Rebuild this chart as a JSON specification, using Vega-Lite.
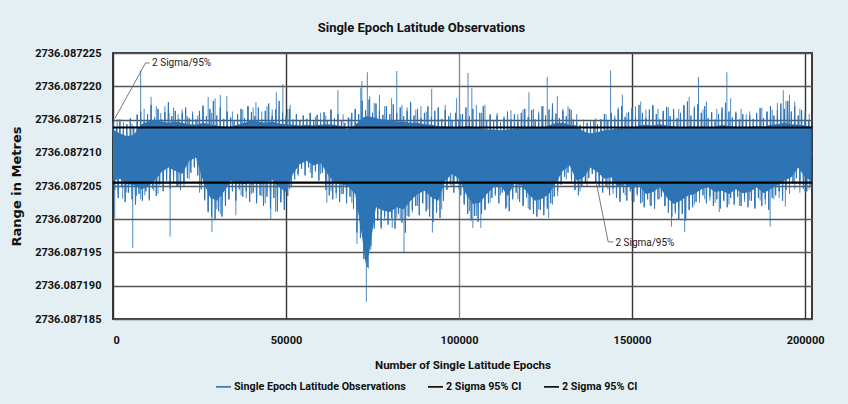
{
  "$schema": "https://vega.github.io/schema/vega-lite/v6.json",
  "width": 699,
  "height": 266,
  "autosize": {"type": "none"},
  "padding": {"left": 113, "top": 53, "right": 36, "bottom": 85},
  "background": "#e4eff3",
  "config": {
    "font": "Roboto",
    "view": {"fill": "#ffffff", "stroke": "#3c3c3c", "strokeWidth": 2},
    "axis": {
      "labelFont": "Roboto",
      "labelFontSize": 11,
      "labelFontWeight": "bold",
      "labelColor": "#111111",
      "titleFont": "Roboto",
      "titleFontSize": 11.5,
      "titleFontWeight": "bold",
      "titleColor": "#111111",
      "domain": false,
      "ticks": false,
      "grid": true,
      "gridColor": "#4a4a4a",
      "gridWidth": 1.4
    }
  },
  "title": {
    "text": "Single Epoch Latitude Observations",
    "font": "Roboto",
    "fontSize": 13,
    "fontWeight": "bold",
    "color": "#111111",
    "anchor": "middle",
    "dx": -41,
    "offset": 12
  },
  "datasets": {
    "core": [
      {"epoch": 0, "hi": 2736.0872135, "lo": 2736.0872058},
      {"epoch": 2000, "hi": 2736.0872129, "lo": 2736.0872061},
      {"epoch": 4000, "hi": 2736.0872125, "lo": 2736.0872053},
      {"epoch": 6000, "hi": 2736.0872127, "lo": 2736.0872051},
      {"epoch": 8000, "hi": 2736.0872142, "lo": 2736.0872045},
      {"epoch": 10000, "hi": 2736.0872147, "lo": 2736.0872048},
      {"epoch": 12000, "hi": 2736.0872149, "lo": 2736.0872058},
      {"epoch": 14000, "hi": 2736.0872147, "lo": 2736.0872071},
      {"epoch": 16000, "hi": 2736.0872145, "lo": 2736.0872078},
      {"epoch": 18000, "hi": 2736.0872147, "lo": 2736.0872073},
      {"epoch": 20000, "hi": 2736.0872145, "lo": 2736.0872068},
      {"epoch": 22000, "hi": 2736.0872143, "lo": 2736.0872088},
      {"epoch": 24000, "hi": 2736.0872142, "lo": 2736.0872093},
      {"epoch": 26000, "hi": 2736.0872145, "lo": 2736.0872058},
      {"epoch": 28000, "hi": 2736.0872143, "lo": 2736.0872033},
      {"epoch": 30000, "hi": 2736.0872141, "lo": 2736.0872028},
      {"epoch": 32000, "hi": 2736.0872139, "lo": 2736.0872041},
      {"epoch": 34000, "hi": 2736.0872139, "lo": 2736.0872058},
      {"epoch": 36000, "hi": 2736.0872142, "lo": 2736.0872055},
      {"epoch": 38000, "hi": 2736.0872145, "lo": 2736.0872053},
      {"epoch": 40000, "hi": 2736.0872149, "lo": 2736.0872057},
      {"epoch": 42000, "hi": 2736.0872147, "lo": 2736.0872053},
      {"epoch": 44000, "hi": 2736.0872145, "lo": 2736.0872055},
      {"epoch": 46000, "hi": 2736.0872147, "lo": 2736.0872059},
      {"epoch": 48000, "hi": 2736.0872144, "lo": 2736.0872048},
      {"epoch": 50000, "hi": 2736.0872143, "lo": 2736.0872041},
      {"epoch": 52000, "hi": 2736.0872142, "lo": 2736.0872068},
      {"epoch": 54000, "hi": 2736.0872141, "lo": 2736.0872083},
      {"epoch": 56000, "hi": 2736.0872142, "lo": 2736.0872088},
      {"epoch": 58000, "hi": 2736.0872141, "lo": 2736.0872081},
      {"epoch": 60000, "hi": 2736.0872142, "lo": 2736.0872085},
      {"epoch": 62000, "hi": 2736.0872143, "lo": 2736.0872068},
      {"epoch": 64000, "hi": 2736.0872142, "lo": 2736.0872055},
      {"epoch": 66000, "hi": 2736.087214, "lo": 2736.0872053},
      {"epoch": 68000, "hi": 2736.0872135, "lo": 2736.0872049},
      {"epoch": 70000, "hi": 2736.0872142, "lo": 2736.0872038},
      {"epoch": 72000, "hi": 2736.0872152, "lo": 2736.0871973},
      {"epoch": 73000, "hi": 2736.0872155, "lo": 2736.0871934},
      {"epoch": 74000, "hi": 2736.0872155, "lo": 2736.0871948},
      {"epoch": 76000, "hi": 2736.0872152, "lo": 2736.0872018},
      {"epoch": 78000, "hi": 2736.087215, "lo": 2736.0872013},
      {"epoch": 80000, "hi": 2736.0872149, "lo": 2736.0872011},
      {"epoch": 82000, "hi": 2736.0872147, "lo": 2736.0872018},
      {"epoch": 84000, "hi": 2736.0872147, "lo": 2736.0872015},
      {"epoch": 86000, "hi": 2736.0872145, "lo": 2736.0872028},
      {"epoch": 88000, "hi": 2736.0872145, "lo": 2736.0872038},
      {"epoch": 90000, "hi": 2736.0872143, "lo": 2736.0872043},
      {"epoch": 92000, "hi": 2736.0872142, "lo": 2736.0872033},
      {"epoch": 94000, "hi": 2736.087214, "lo": 2736.0872028},
      {"epoch": 96000, "hi": 2736.0872139, "lo": 2736.0872058},
      {"epoch": 98000, "hi": 2736.0872139, "lo": 2736.0872068},
      {"epoch": 100000, "hi": 2736.0872137, "lo": 2736.0872061},
      {"epoch": 102000, "hi": 2736.087214, "lo": 2736.0872038},
      {"epoch": 104000, "hi": 2736.0872139, "lo": 2736.0872023},
      {"epoch": 106000, "hi": 2736.0872137, "lo": 2736.0872025},
      {"epoch": 108000, "hi": 2736.0872135, "lo": 2736.0872038},
      {"epoch": 110000, "hi": 2736.0872135, "lo": 2736.0872048},
      {"epoch": 112000, "hi": 2736.0872134, "lo": 2736.0872051},
      {"epoch": 114000, "hi": 2736.0872135, "lo": 2736.0872035},
      {"epoch": 116000, "hi": 2736.0872137, "lo": 2736.0872053},
      {"epoch": 118000, "hi": 2736.0872137, "lo": 2736.0872051},
      {"epoch": 120000, "hi": 2736.0872139, "lo": 2736.0872038},
      {"epoch": 122000, "hi": 2736.0872139, "lo": 2736.0872028},
      {"epoch": 124000, "hi": 2736.0872137, "lo": 2736.0872031},
      {"epoch": 126000, "hi": 2736.0872141, "lo": 2736.0872038},
      {"epoch": 128000, "hi": 2736.0872145, "lo": 2736.0872055},
      {"epoch": 130000, "hi": 2736.0872145, "lo": 2736.0872073},
      {"epoch": 132000, "hi": 2736.0872142, "lo": 2736.0872081},
      {"epoch": 134000, "hi": 2736.0872141, "lo": 2736.0872058},
      {"epoch": 136000, "hi": 2736.0872132, "lo": 2736.0872063},
      {"epoch": 138000, "hi": 2736.0872129, "lo": 2736.0872078},
      {"epoch": 140000, "hi": 2736.0872131, "lo": 2736.0872071},
      {"epoch": 142000, "hi": 2736.0872134, "lo": 2736.0872061},
      {"epoch": 144000, "hi": 2736.0872135, "lo": 2736.0872063},
      {"epoch": 146000, "hi": 2736.0872137, "lo": 2736.0872048},
      {"epoch": 148000, "hi": 2736.0872137, "lo": 2736.0872053},
      {"epoch": 150000, "hi": 2736.0872137, "lo": 2736.0872045},
      {"epoch": 152000, "hi": 2736.0872141, "lo": 2736.0872051},
      {"epoch": 154000, "hi": 2736.0872142, "lo": 2736.0872038},
      {"epoch": 156000, "hi": 2736.0872141, "lo": 2736.0872041},
      {"epoch": 158000, "hi": 2736.0872143, "lo": 2736.0872048},
      {"epoch": 160000, "hi": 2736.0872141, "lo": 2736.0872033},
      {"epoch": 162000, "hi": 2736.087214, "lo": 2736.0872023},
      {"epoch": 164000, "hi": 2736.0872137, "lo": 2736.0872028},
      {"epoch": 166000, "hi": 2736.0872139, "lo": 2736.0872035},
      {"epoch": 168000, "hi": 2736.0872139, "lo": 2736.0872038},
      {"epoch": 170000, "hi": 2736.0872139, "lo": 2736.0872045},
      {"epoch": 172000, "hi": 2736.0872137, "lo": 2736.0872048},
      {"epoch": 174000, "hi": 2736.0872139, "lo": 2736.0872041},
      {"epoch": 176000, "hi": 2736.0872142, "lo": 2736.0872043},
      {"epoch": 178000, "hi": 2736.087214, "lo": 2736.0872038},
      {"epoch": 180000, "hi": 2736.0872139, "lo": 2736.0872045},
      {"epoch": 182000, "hi": 2736.0872137, "lo": 2736.0872039},
      {"epoch": 184000, "hi": 2736.0872139, "lo": 2736.0872041},
      {"epoch": 186000, "hi": 2736.087214, "lo": 2736.0872048},
      {"epoch": 188000, "hi": 2736.0872139, "lo": 2736.0872039},
      {"epoch": 190000, "hi": 2736.0872142, "lo": 2736.0872045},
      {"epoch": 192000, "hi": 2736.0872143, "lo": 2736.0872051},
      {"epoch": 194000, "hi": 2736.0872145, "lo": 2736.0872058},
      {"epoch": 196000, "hi": 2736.0872143, "lo": 2736.0872063},
      {"epoch": 198000, "hi": 2736.0872142, "lo": 2736.0872078},
      {"epoch": 200000, "hi": 2736.0872141, "lo": 2736.0872063},
      {"epoch": 201800, "hi": 2736.0872139, "lo": 2736.0872058}
    ],
    "trace": [
      {"epoch": 0, "lat": 2736.0872146}, {"epoch": 500, "lat": 2736.0872044},
      {"epoch": 1000, "lat": 2736.0872139}, {"epoch": 1500, "lat": 2736.0872032},
      {"epoch": 2000, "lat": 2736.087215}, {"epoch": 2500, "lat": 2736.0872048},
      {"epoch": 3000, "lat": 2736.0872136}, {"epoch": 3500, "lat": 2736.0872026},
      {"epoch": 4000, "lat": 2736.0872143}, {"epoch": 4500, "lat": 2736.087204},
      {"epoch": 5000, "lat": 2736.0872152}, {"epoch": 5500, "lat": 2736.087203},
      {"epoch": 6000, "lat": 2736.087214}, {"epoch": 6500, "lat": 2736.0872022},
      {"epoch": 7000, "lat": 2736.0872157}, {"epoch": 7500, "lat": 2736.0872038},
      {"epoch": 8000, "lat": 2736.0872162}, {"epoch": 8500, "lat": 2736.0872028},
      {"epoch": 9000, "lat": 2736.0872149}, {"epoch": 9500, "lat": 2736.0872042},
      {"epoch": 10000, "lat": 2736.0872158}, {"epoch": 10500, "lat": 2736.087203},
      {"epoch": 11000, "lat": 2736.0872172}, {"epoch": 11500, "lat": 2736.0872046},
      {"epoch": 12000, "lat": 2736.0872153}, {"epoch": 12500, "lat": 2736.0872035},
      {"epoch": 13000, "lat": 2736.0872166}, {"epoch": 13500, "lat": 2736.0872052},
      {"epoch": 14000, "lat": 2736.087215}, {"epoch": 14500, "lat": 2736.0872042},
      {"epoch": 15000, "lat": 2736.0872161}, {"epoch": 15500, "lat": 2736.0872058},
      {"epoch": 16000, "lat": 2736.0872176}, {"epoch": 16500, "lat": 2736.0872046},
      {"epoch": 17000, "lat": 2736.0872155}, {"epoch": 17500, "lat": 2736.087206},
      {"epoch": 18000, "lat": 2736.0872163}, {"epoch": 18500, "lat": 2736.087205},
      {"epoch": 19000, "lat": 2736.0872151}, {"epoch": 19500, "lat": 2736.0872044},
      {"epoch": 20000, "lat": 2736.087216}, {"epoch": 20500, "lat": 2736.0872056},
      {"epoch": 21000, "lat": 2736.0872168}, {"epoch": 21500, "lat": 2736.0872062},
      {"epoch": 22000, "lat": 2736.0872152}, {"epoch": 22500, "lat": 2736.087207},
      {"epoch": 23000, "lat": 2736.0872158}, {"epoch": 23500, "lat": 2736.0872078},
      {"epoch": 24000, "lat": 2736.087215}, {"epoch": 24500, "lat": 2736.0872066},
      {"epoch": 25000, "lat": 2736.0872163}, {"epoch": 25500, "lat": 2736.0872045},
      {"epoch": 26000, "lat": 2736.0872171}, {"epoch": 26500, "lat": 2736.087203},
      {"epoch": 27000, "lat": 2736.0872155}, {"epoch": 27500, "lat": 2736.0872012},
      {"epoch": 28000, "lat": 2736.0872166}, {"epoch": 28500, "lat": 2736.0872004},
      {"epoch": 29000, "lat": 2736.0872178}, {"epoch": 29500, "lat": 2736.0872},
      {"epoch": 30000, "lat": 2736.0872156}, {"epoch": 30500, "lat": 2736.0872012},
      {"epoch": 31000, "lat": 2736.0872168}, {"epoch": 31500, "lat": 2736.0872004},
      {"epoch": 32000, "lat": 2736.0872151}, {"epoch": 32500, "lat": 2736.087202},
      {"epoch": 33000, "lat": 2736.0872162}, {"epoch": 33500, "lat": 2736.087203},
      {"epoch": 34000, "lat": 2736.0872153}, {"epoch": 34500, "lat": 2736.0872042},
      {"epoch": 35000, "lat": 2736.0872149}, {"epoch": 35500, "lat": 2736.0872028},
      {"epoch": 36000, "lat": 2736.0872158}, {"epoch": 36500, "lat": 2736.0872045},
      {"epoch": 37000, "lat": 2736.0872166}, {"epoch": 37500, "lat": 2736.0872034},
      {"epoch": 38000, "lat": 2736.0872152}, {"epoch": 38500, "lat": 2736.0872042},
      {"epoch": 39000, "lat": 2736.087217}, {"epoch": 39500, "lat": 2736.0872026},
      {"epoch": 40000, "lat": 2736.0872161}, {"epoch": 40500, "lat": 2736.087204},
      {"epoch": 41000, "lat": 2736.0872155}, {"epoch": 41500, "lat": 2736.0872024},
      {"epoch": 42000, "lat": 2736.0872168}, {"epoch": 42500, "lat": 2736.0872036},
      {"epoch": 43000, "lat": 2736.087215}, {"epoch": 43500, "lat": 2736.087202},
      {"epoch": 44000, "lat": 2736.0872163}, {"epoch": 44500, "lat": 2736.0872034},
      {"epoch": 45000, "lat": 2736.0872174}, {"epoch": 45500, "lat": 2736.0872016},
      {"epoch": 46000, "lat": 2736.0872156}, {"epoch": 46500, "lat": 2736.0872032},
      {"epoch": 47000, "lat": 2736.0872165}, {"epoch": 47500, "lat": 2736.0872012},
      {"epoch": 48000, "lat": 2736.0872178}, {"epoch": 48500, "lat": 2736.0872026},
      {"epoch": 49000, "lat": 2736.087216}, {"epoch": 49500, "lat": 2736.0872014},
      {"epoch": 50000, "lat": 2736.0872155}, {"epoch": 50500, "lat": 2736.0872035},
      {"epoch": 51000, "lat": 2736.0872166}, {"epoch": 51500, "lat": 2736.0872048},
      {"epoch": 52000, "lat": 2736.087215}, {"epoch": 52500, "lat": 2736.087206},
      {"epoch": 53000, "lat": 2736.0872158}, {"epoch": 53500, "lat": 2736.0872068},
      {"epoch": 54000, "lat": 2736.0872148}, {"epoch": 54500, "lat": 2736.0872076},
      {"epoch": 55000, "lat": 2736.0872156}, {"epoch": 55500, "lat": 2736.0872066},
      {"epoch": 56000, "lat": 2736.0872151}, {"epoch": 56500, "lat": 2736.0872078},
      {"epoch": 57000, "lat": 2736.087216}, {"epoch": 57500, "lat": 2736.0872062},
      {"epoch": 58000, "lat": 2736.0872147}, {"epoch": 58500, "lat": 2736.0872072},
      {"epoch": 59000, "lat": 2736.0872157}, {"epoch": 59500, "lat": 2736.0872058},
      {"epoch": 60000, "lat": 2736.087215}, {"epoch": 60500, "lat": 2736.087207},
      {"epoch": 61000, "lat": 2736.0872161}, {"epoch": 61500, "lat": 2736.0872044},
      {"epoch": 62000, "lat": 2736.0872149}, {"epoch": 62500, "lat": 2736.0872036},
      {"epoch": 63000, "lat": 2736.0872165}, {"epoch": 63500, "lat": 2736.087203},
      {"epoch": 64000, "lat": 2736.0872152}, {"epoch": 64500, "lat": 2736.087204},
      {"epoch": 65000, "lat": 2736.0872158}, {"epoch": 65500, "lat": 2736.0872026},
      {"epoch": 66000, "lat": 2736.0872148}, {"epoch": 66500, "lat": 2736.0872038},
      {"epoch": 67000, "lat": 2736.0872145}, {"epoch": 67500, "lat": 2736.0872024},
      {"epoch": 68000, "lat": 2736.0872153}, {"epoch": 68500, "lat": 2736.0872034},
      {"epoch": 69000, "lat": 2736.087216}, {"epoch": 69500, "lat": 2736.0872016},
      {"epoch": 70000, "lat": 2736.0872166}, {"epoch": 70500, "lat": 2736.087198},
      {"epoch": 71000, "lat": 2736.0872158}, {"epoch": 71500, "lat": 2736.0871972},
      {"epoch": 72000, "lat": 2736.0872178}, {"epoch": 72500, "lat": 2736.087194},
      {"epoch": 73000, "lat": 2736.0872164}, {"epoch": 73500, "lat": 2736.0871928},
      {"epoch": 74000, "lat": 2736.087218}, {"epoch": 74500, "lat": 2736.087196},
      {"epoch": 75000, "lat": 2736.087216}, {"epoch": 75500, "lat": 2736.0871986},
      {"epoch": 76000, "lat": 2736.0872174}, {"epoch": 76500, "lat": 2736.0871998},
      {"epoch": 77000, "lat": 2736.0872163}, {"epoch": 77500, "lat": 2736.0871988},
      {"epoch": 78000, "lat": 2736.0872157}, {"epoch": 78500, "lat": 2736.0872004},
      {"epoch": 79000, "lat": 2736.087217}, {"epoch": 79500, "lat": 2736.0871992},
      {"epoch": 80000, "lat": 2736.0872158}, {"epoch": 80500, "lat": 2736.0872002},
      {"epoch": 81000, "lat": 2736.0872173}, {"epoch": 81500, "lat": 2736.0871986},
      {"epoch": 82000, "lat": 2736.087216}, {"epoch": 82500, "lat": 2736.0872008},
      {"epoch": 83000, "lat": 2736.0872168}, {"epoch": 83500, "lat": 2736.0871995},
      {"epoch": 84000, "lat": 2736.0872155}, {"epoch": 84500, "lat": 2736.087198},
      {"epoch": 85000, "lat": 2736.0872163}, {"epoch": 85500, "lat": 2736.0872004},
      {"epoch": 86000, "lat": 2736.0872175}, {"epoch": 86500, "lat": 2736.0872014},
      {"epoch": 87000, "lat": 2736.0872156}, {"epoch": 87500, "lat": 2736.087202},
      {"epoch": 88000, "lat": 2736.0872166}, {"epoch": 88500, "lat": 2736.0872006},
      {"epoch": 89000, "lat": 2736.0872152}, {"epoch": 89500, "lat": 2736.0872024},
      {"epoch": 90000, "lat": 2736.087216}, {"epoch": 90500, "lat": 2736.0872012},
      {"epoch": 91000, "lat": 2736.087217}, {"epoch": 91500, "lat": 2736.0872004},
      {"epoch": 92000, "lat": 2736.0872154}, {"epoch": 92500, "lat": 2736.0871996},
      {"epoch": 93000, "lat": 2736.0872163}, {"epoch": 93500, "lat": 2736.087201},
      {"epoch": 94000, "lat": 2736.0872168}, {"epoch": 94500, "lat": 2736.0872002},
      {"epoch": 95000, "lat": 2736.0872151}, {"epoch": 95500, "lat": 2736.0872028},
      {"epoch": 96000, "lat": 2736.0872164}, {"epoch": 96500, "lat": 2736.0872044},
      {"epoch": 97000, "lat": 2736.0872155}, {"epoch": 97500, "lat": 2736.0872052},
      {"epoch": 98000, "lat": 2736.0872149}, {"epoch": 98500, "lat": 2736.087204},
      {"epoch": 99000, "lat": 2736.087216}, {"epoch": 99500, "lat": 2736.0872054},
      {"epoch": 100000, "lat": 2736.087215}, {"epoch": 100500, "lat": 2736.0872036},
      {"epoch": 101000, "lat": 2736.0872158}, {"epoch": 101500, "lat": 2736.0872022},
      {"epoch": 102000, "lat": 2736.0872168}, {"epoch": 102500, "lat": 2736.0872008},
      {"epoch": 103000, "lat": 2736.0872155}, {"epoch": 103500, "lat": 2736.0871998},
      {"epoch": 104000, "lat": 2736.0872166}, {"epoch": 104500, "lat": 2736.0872005},
      {"epoch": 105000, "lat": 2736.087215}, {"epoch": 105500, "lat": 2736.0871996},
      {"epoch": 106000, "lat": 2736.087216}, {"epoch": 106500, "lat": 2736.0872008},
      {"epoch": 107000, "lat": 2736.087217}, {"epoch": 107500, "lat": 2736.0872014},
      {"epoch": 108000, "lat": 2736.0872149}, {"epoch": 108500, "lat": 2736.0872024},
      {"epoch": 109000, "lat": 2736.0872157}, {"epoch": 109500, "lat": 2736.0872032},
      {"epoch": 110000, "lat": 2736.0872148}, {"epoch": 110500, "lat": 2736.0872038},
      {"epoch": 111000, "lat": 2736.0872156}, {"epoch": 111500, "lat": 2736.0872024},
      {"epoch": 112000, "lat": 2736.0872146}, {"epoch": 112500, "lat": 2736.087204},
      {"epoch": 113000, "lat": 2736.0872152}, {"epoch": 113500, "lat": 2736.0872016},
      {"epoch": 114000, "lat": 2736.0872162}, {"epoch": 114500, "lat": 2736.0872012},
      {"epoch": 115000, "lat": 2736.087215}, {"epoch": 115500, "lat": 2736.087203},
      {"epoch": 116000, "lat": 2736.0872158}, {"epoch": 116500, "lat": 2736.087204},
      {"epoch": 117000, "lat": 2736.0872147}, {"epoch": 117500, "lat": 2736.0872026},
      {"epoch": 118000, "lat": 2736.087216}, {"epoch": 118500, "lat": 2736.087202},
      {"epoch": 119000, "lat": 2736.0872166}, {"epoch": 119500, "lat": 2736.0872032},
      {"epoch": 120000, "lat": 2736.0872154}, {"epoch": 120500, "lat": 2736.0872014},
      {"epoch": 121000, "lat": 2736.0872164}, {"epoch": 121500, "lat": 2736.0872008},
      {"epoch": 122000, "lat": 2736.087215}, {"epoch": 122500, "lat": 2736.0872004},
      {"epoch": 123000, "lat": 2736.0872158}, {"epoch": 123500, "lat": 2736.0872014},
      {"epoch": 124000, "lat": 2736.087217}, {"epoch": 124500, "lat": 2736.0872006},
      {"epoch": 125000, "lat": 2736.0872156}, {"epoch": 125500, "lat": 2736.0872016},
      {"epoch": 126000, "lat": 2736.0872165}, {"epoch": 126500, "lat": 2736.0872024},
      {"epoch": 127000, "lat": 2736.0872174}, {"epoch": 127500, "lat": 2736.0872034},
      {"epoch": 128000, "lat": 2736.0872159}, {"epoch": 128500, "lat": 2736.0872042},
      {"epoch": 129000, "lat": 2736.0872152}, {"epoch": 129500, "lat": 2736.0872052},
      {"epoch": 130000, "lat": 2736.0872163}, {"epoch": 130500, "lat": 2736.0872064},
      {"epoch": 131000, "lat": 2736.0872155}, {"epoch": 131500, "lat": 2736.087207},
      {"epoch": 132000, "lat": 2736.0872166}, {"epoch": 132500, "lat": 2736.0872058},
      {"epoch": 133000, "lat": 2736.087215}, {"epoch": 133500, "lat": 2736.0872044},
      {"epoch": 134000, "lat": 2736.0872146}, {"epoch": 134500, "lat": 2736.0872036},
      {"epoch": 135000, "lat": 2736.0872142}, {"epoch": 135500, "lat": 2736.087205},
      {"epoch": 136000, "lat": 2736.0872139}, {"epoch": 136500, "lat": 2736.0872054},
      {"epoch": 137000, "lat": 2736.0872145}, {"epoch": 137500, "lat": 2736.0872062},
      {"epoch": 138000, "lat": 2736.0872141}, {"epoch": 138500, "lat": 2736.0872068},
      {"epoch": 139000, "lat": 2736.0872148}, {"epoch": 139500, "lat": 2736.0872056},
      {"epoch": 140000, "lat": 2736.0872143}, {"epoch": 140500, "lat": 2736.0872048},
      {"epoch": 141000, "lat": 2736.087215}, {"epoch": 141500, "lat": 2736.087204},
      {"epoch": 142000, "lat": 2736.0872158}, {"epoch": 142500, "lat": 2736.087205},
      {"epoch": 143000, "lat": 2736.0872149}, {"epoch": 143500, "lat": 2736.0872036},
      {"epoch": 144000, "lat": 2736.087216}, {"epoch": 144500, "lat": 2736.0872046},
      {"epoch": 145000, "lat": 2736.0872152}, {"epoch": 145500, "lat": 2736.0872032},
      {"epoch": 146000, "lat": 2736.0872165}, {"epoch": 146500, "lat": 2736.0872026},
      {"epoch": 147000, "lat": 2736.087217}, {"epoch": 147500, "lat": 2736.087204},
      {"epoch": 148000, "lat": 2736.0872154}, {"epoch": 148500, "lat": 2736.0872028},
      {"epoch": 149000, "lat": 2736.0872161}, {"epoch": 149500, "lat": 2736.0872042},
      {"epoch": 150000, "lat": 2736.0872168}, {"epoch": 150500, "lat": 2736.0872026},
      {"epoch": 151000, "lat": 2736.0872156}, {"epoch": 151500, "lat": 2736.0872038},
      {"epoch": 152000, "lat": 2736.0872172}, {"epoch": 152500, "lat": 2736.0872024},
      {"epoch": 153000, "lat": 2736.087216}, {"epoch": 153500, "lat": 2736.0872018},
      {"epoch": 154000, "lat": 2736.0872152}, {"epoch": 154500, "lat": 2736.087203},
      {"epoch": 155000, "lat": 2736.0872165}, {"epoch": 155500, "lat": 2736.087202},
      {"epoch": 156000, "lat": 2736.0872171}, {"epoch": 156500, "lat": 2736.0872016},
      {"epoch": 157000, "lat": 2736.0872158}, {"epoch": 157500, "lat": 2736.087203},
      {"epoch": 158000, "lat": 2736.087215}, {"epoch": 158500, "lat": 2736.0872034},
      {"epoch": 159000, "lat": 2736.0872163}, {"epoch": 159500, "lat": 2736.087202},
      {"epoch": 160000, "lat": 2736.0872169}, {"epoch": 160500, "lat": 2736.087201},
      {"epoch": 161000, "lat": 2736.0872155}, {"epoch": 161500, "lat": 2736.0872004},
      {"epoch": 162000, "lat": 2736.0872166}, {"epoch": 162500, "lat": 2736.0872012},
      {"epoch": 163000, "lat": 2736.0872152}, {"epoch": 163500, "lat": 2736.0872},
      {"epoch": 164000, "lat": 2736.087216}, {"epoch": 164500, "lat": 2736.0872008},
      {"epoch": 165000, "lat": 2736.0872171}, {"epoch": 165500, "lat": 2736.0871998},
      {"epoch": 166000, "lat": 2736.0872177}, {"epoch": 166500, "lat": 2736.0872014},
      {"epoch": 167000, "lat": 2736.0872156}, {"epoch": 167500, "lat": 2736.0872018},
      {"epoch": 168000, "lat": 2736.0872167}, {"epoch": 168500, "lat": 2736.0872026},
      {"epoch": 169000, "lat": 2736.0872173}, {"epoch": 169500, "lat": 2736.0872032},
      {"epoch": 170000, "lat": 2736.087216}, {"epoch": 170500, "lat": 2736.0872036},
      {"epoch": 171000, "lat": 2736.087217}, {"epoch": 171500, "lat": 2736.0872024},
      {"epoch": 172000, "lat": 2736.0872152}, {"epoch": 172500, "lat": 2736.0872034},
      {"epoch": 173000, "lat": 2736.0872161}, {"epoch": 173500, "lat": 2736.087202},
      {"epoch": 174000, "lat": 2736.087215}, {"epoch": 174500, "lat": 2736.087203},
      {"epoch": 175000, "lat": 2736.0872158}, {"epoch": 175500, "lat": 2736.0872016},
      {"epoch": 176000, "lat": 2736.0872168}, {"epoch": 176500, "lat": 2736.0872028},
      {"epoch": 177000, "lat": 2736.0872175}, {"epoch": 177500, "lat": 2736.0872018},
      {"epoch": 178000, "lat": 2736.0872162}, {"epoch": 178500, "lat": 2736.0872032},
      {"epoch": 179000, "lat": 2736.0872153}, {"epoch": 179500, "lat": 2736.0872022},
      {"epoch": 180000, "lat": 2736.087216}, {"epoch": 180500, "lat": 2736.0872034},
      {"epoch": 181000, "lat": 2736.087215}, {"epoch": 181500, "lat": 2736.087202},
      {"epoch": 182000, "lat": 2736.0872158}, {"epoch": 182500, "lat": 2736.087203},
      {"epoch": 183000, "lat": 2736.0872148}, {"epoch": 183500, "lat": 2736.0872018},
      {"epoch": 184000, "lat": 2736.0872156}, {"epoch": 184500, "lat": 2736.0872028},
      {"epoch": 185000, "lat": 2736.0872151}, {"epoch": 185500, "lat": 2736.0872016},
      {"epoch": 186000, "lat": 2736.087216}, {"epoch": 186500, "lat": 2736.0872032},
      {"epoch": 187000, "lat": 2736.0872167}, {"epoch": 187500, "lat": 2736.087202},
      {"epoch": 188000, "lat": 2736.0872152}, {"epoch": 188500, "lat": 2736.087203},
      {"epoch": 189000, "lat": 2736.0872162}, {"epoch": 189500, "lat": 2736.0872014},
      {"epoch": 190000, "lat": 2736.087217}, {"epoch": 190500, "lat": 2736.0872032},
      {"epoch": 191000, "lat": 2736.0872156}, {"epoch": 191500, "lat": 2736.0872036},
      {"epoch": 192000, "lat": 2736.0872164}, {"epoch": 192500, "lat": 2736.0872042},
      {"epoch": 193000, "lat": 2736.0872174}, {"epoch": 193500, "lat": 2736.0872028},
      {"epoch": 194000, "lat": 2736.0872166}, {"epoch": 194500, "lat": 2736.0872044},
      {"epoch": 195000, "lat": 2736.0872178}, {"epoch": 195500, "lat": 2736.0872048},
      {"epoch": 196000, "lat": 2736.0872162}, {"epoch": 196500, "lat": 2736.0872054},
      {"epoch": 197000, "lat": 2736.087217}, {"epoch": 197500, "lat": 2736.0872062},
      {"epoch": 198000, "lat": 2736.0872156}, {"epoch": 198500, "lat": 2736.0872052},
      {"epoch": 199000, "lat": 2736.0872164}, {"epoch": 199500, "lat": 2736.0872046},
      {"epoch": 200000, "lat": 2736.0872152}, {"epoch": 200500, "lat": 2736.0872042},
      {"epoch": 201000, "lat": 2736.0872148}, {"epoch": 201500, "lat": 2736.087205}
    ],
    "spikes": [
      {"epoch": 1200, "lat": 2736.087215}, {"epoch": 3000, "lat": 2736.0872146}, {"epoch": 5500, "lat": 2736.0872144},
      {"epoch": 7000, "lat": 2736.0872158}, {"epoch": 8000, "lat": 2736.0872224}, {"epoch": 9000, "lat": 2736.0872166},
      {"epoch": 11000, "lat": 2736.0872184}, {"epoch": 12500, "lat": 2736.087217}, {"epoch": 13800, "lat": 2736.087216},
      {"epoch": 15000, "lat": 2736.087217}, {"epoch": 16200, "lat": 2736.087216}, {"epoch": 17500, "lat": 2736.0872168},
      {"epoch": 18800, "lat": 2736.0872158}, {"epoch": 20000, "lat": 2736.0872165}, {"epoch": 21500, "lat": 2736.0872155},
      {"epoch": 23000, "lat": 2736.0872162}, {"epoch": 24500, "lat": 2736.0872156}, {"epoch": 26000, "lat": 2736.0872168},
      {"epoch": 27500, "lat": 2736.0872184}, {"epoch": 28500, "lat": 2736.087216}, {"epoch": 29500, "lat": 2736.0872182},
      {"epoch": 31000, "lat": 2736.0872187}, {"epoch": 32900, "lat": 2736.0872185}, {"epoch": 34500, "lat": 2736.0872162},
      {"epoch": 36000, "lat": 2736.0872158}, {"epoch": 37500, "lat": 2736.0872165}, {"epoch": 39000, "lat": 2736.087217},
      {"epoch": 40500, "lat": 2736.0872168}, {"epoch": 41300, "lat": 2736.0872176}, {"epoch": 43000, "lat": 2736.0872162},
      {"epoch": 44500, "lat": 2736.087217}, {"epoch": 46000, "lat": 2736.0872165}, {"epoch": 47200, "lat": 2736.0872191},
      {"epoch": 49100, "lat": 2736.0872203}, {"epoch": 50500, "lat": 2736.0872166}, {"epoch": 51200, "lat": 2736.0872172},
      {"epoch": 53000, "lat": 2736.0872158}, {"epoch": 55000, "lat": 2736.0872155}, {"epoch": 57000, "lat": 2736.0872159},
      {"epoch": 58500, "lat": 2736.0872154}, {"epoch": 60000, "lat": 2736.087216}, {"epoch": 61500, "lat": 2736.0872156},
      {"epoch": 63000, "lat": 2736.0872164}, {"epoch": 65000, "lat": 2736.0872194}, {"epoch": 66500, "lat": 2736.0872158},
      {"epoch": 68500, "lat": 2736.0872152}, {"epoch": 70000, "lat": 2736.0872165}, {"epoch": 71600, "lat": 2736.0872197},
      {"epoch": 71900, "lat": 2736.0872208}, {"epoch": 73500, "lat": 2736.0872221}, {"epoch": 74200, "lat": 2736.0872185},
      {"epoch": 75500, "lat": 2736.0872175}, {"epoch": 77000, "lat": 2736.0872187}, {"epoch": 78500, "lat": 2736.087217},
      {"epoch": 80500, "lat": 2736.0872182}, {"epoch": 82000, "lat": 2736.0872223}, {"epoch": 83500, "lat": 2736.0872172},
      {"epoch": 85000, "lat": 2736.0872168}, {"epoch": 86000, "lat": 2736.0872177}, {"epoch": 87500, "lat": 2736.0872165},
      {"epoch": 89000, "lat": 2736.087217}, {"epoch": 90500, "lat": 2736.0872162}, {"epoch": 92100, "lat": 2736.0872196},
      {"epoch": 94000, "lat": 2736.0872168}, {"epoch": 96000, "lat": 2736.0872172}, {"epoch": 97500, "lat": 2736.087216},
      {"epoch": 99300, "lat": 2736.0872182}, {"epoch": 100500, "lat": 2736.0872158}, {"epoch": 102600, "lat": 2736.087222},
      {"epoch": 103700, "lat": 2736.0872197}, {"epoch": 105000, "lat": 2736.0872172}, {"epoch": 106500, "lat": 2736.087216},
      {"epoch": 107500, "lat": 2736.0872172}, {"epoch": 109000, "lat": 2736.0872158}, {"epoch": 111000, "lat": 2736.087216},
      {"epoch": 113000, "lat": 2736.0872155}, {"epoch": 115000, "lat": 2736.0872164}, {"epoch": 117000, "lat": 2736.0872158},
      {"epoch": 118500, "lat": 2736.0872165}, {"epoch": 120200, "lat": 2736.0872191}, {"epoch": 121500, "lat": 2736.0872166},
      {"epoch": 123000, "lat": 2736.0872162}, {"epoch": 124300, "lat": 2736.087217}, {"epoch": 125500, "lat": 2736.0872214},
      {"epoch": 127000, "lat": 2736.0872168}, {"epoch": 128400, "lat": 2736.0872185}, {"epoch": 130000, "lat": 2736.0872166},
      {"epoch": 131500, "lat": 2736.087217}, {"epoch": 132500, "lat": 2736.0872164}, {"epoch": 134000, "lat": 2736.0872158},
      {"epoch": 136000, "lat": 2736.087215}, {"epoch": 138000, "lat": 2736.0872148}, {"epoch": 139500, "lat": 2736.0872152},
      {"epoch": 141000, "lat": 2736.087215}, {"epoch": 142500, "lat": 2736.0872158}, {"epoch": 143800, "lat": 2736.0872224},
      {"epoch": 145000, "lat": 2736.0872156}, {"epoch": 146000, "lat": 2736.0872168}, {"epoch": 147200, "lat": 2736.0872187},
      {"epoch": 148500, "lat": 2736.087216}, {"epoch": 150000, "lat": 2736.0872165}, {"epoch": 151000, "lat": 2736.087217},
      {"epoch": 152500, "lat": 2736.0872177}, {"epoch": 154000, "lat": 2736.0872165}, {"epoch": 156000, "lat": 2736.0872172},
      {"epoch": 157500, "lat": 2736.0872166}, {"epoch": 159000, "lat": 2736.087216}, {"epoch": 160500, "lat": 2736.0872168},
      {"epoch": 162000, "lat": 2736.0872162}, {"epoch": 163500, "lat": 2736.0872166}, {"epoch": 165000, "lat": 2736.0872172},
      {"epoch": 166500, "lat": 2736.0872184}, {"epoch": 168000, "lat": 2736.087217}, {"epoch": 169200, "lat": 2736.0872214},
      {"epoch": 170500, "lat": 2736.0872165}, {"epoch": 171500, "lat": 2736.0872177}, {"epoch": 173000, "lat": 2736.087216},
      {"epoch": 174500, "lat": 2736.0872166}, {"epoch": 176000, "lat": 2736.0872162}, {"epoch": 177400, "lat": 2736.0872221},
      {"epoch": 178500, "lat": 2736.0872182}, {"epoch": 180000, "lat": 2736.0872162}, {"epoch": 181500, "lat": 2736.0872166},
      {"epoch": 183000, "lat": 2736.0872158}, {"epoch": 184000, "lat": 2736.0872162}, {"epoch": 186000, "lat": 2736.0872158},
      {"epoch": 187500, "lat": 2736.0872168}, {"epoch": 189000, "lat": 2736.087216}, {"epoch": 190500, "lat": 2736.0872165},
      {"epoch": 192000, "lat": 2736.0872175}, {"epoch": 193700, "lat": 2736.0872194}, {"epoch": 194500, "lat": 2736.0872178},
      {"epoch": 195500, "lat": 2736.0872187}, {"epoch": 197000, "lat": 2736.0872177}, {"epoch": 198500, "lat": 2736.0872166},
      {"epoch": 200000, "lat": 2736.0872162}, {"epoch": 201200, "lat": 2736.0872158},
      {"epoch": 500, "lat": 2736.0872002}, {"epoch": 1500, "lat": 2736.0872038}, {"epoch": 2800, "lat": 2736.0872031},
      {"epoch": 4000, "lat": 2736.087204}, {"epoch": 5700, "lat": 2736.0871957}, {"epoch": 6800, "lat": 2736.0872035},
      {"epoch": 8000, "lat": 2736.087203}, {"epoch": 9200, "lat": 2736.0872036}, {"epoch": 10500, "lat": 2736.0872028},
      {"epoch": 11800, "lat": 2736.0872042}, {"epoch": 13000, "lat": 2736.0872038}, {"epoch": 14500, "lat": 2736.087205},
      {"epoch": 16500, "lat": 2736.0871974}, {"epoch": 17500, "lat": 2736.0872055}, {"epoch": 19000, "lat": 2736.087205},
      {"epoch": 20500, "lat": 2736.0872048}, {"epoch": 22000, "lat": 2736.087206}, {"epoch": 25000, "lat": 2736.087204},
      {"epoch": 26500, "lat": 2736.0872028}, {"epoch": 27500, "lat": 2736.087201}, {"epoch": 28600, "lat": 2736.0871981},
      {"epoch": 30000, "lat": 2736.0872015}, {"epoch": 31000, "lat": 2736.0872008}, {"epoch": 32500, "lat": 2736.087202},
      {"epoch": 33500, "lat": 2736.087203}, {"epoch": 35500, "lat": 2736.0872006}, {"epoch": 37000, "lat": 2736.0872036},
      {"epoch": 38500, "lat": 2736.0872032}, {"epoch": 40000, "lat": 2736.0872038}, {"epoch": 41500, "lat": 2736.0872028},
      {"epoch": 43000, "lat": 2736.0872035}, {"epoch": 44000, "lat": 2736.0872024}, {"epoch": 45600, "lat": 2736.0871999},
      {"epoch": 47000, "lat": 2736.0872011}, {"epoch": 48500, "lat": 2736.0872025}, {"epoch": 49500, "lat": 2736.087203},
      {"epoch": 51000, "lat": 2736.0872045}, {"epoch": 53500, "lat": 2736.0872065}, {"epoch": 57000, "lat": 2736.087207},
      {"epoch": 60000, "lat": 2736.0872068}, {"epoch": 61800, "lat": 2736.0872025}, {"epoch": 63000, "lat": 2736.0872042},
      {"epoch": 64500, "lat": 2736.0872032}, {"epoch": 66000, "lat": 2736.0872038}, {"epoch": 67500, "lat": 2736.0872035},
      {"epoch": 69000, "lat": 2736.0872025}, {"epoch": 70500, "lat": 2736.0871963}, {"epoch": 71500, "lat": 2736.087199},
      {"epoch": 73200, "lat": 2736.0871876}, {"epoch": 73800, "lat": 2736.0871926}, {"epoch": 74500, "lat": 2736.0871954},
      {"epoch": 75500, "lat": 2736.0871995}, {"epoch": 76500, "lat": 2736.0872}, {"epoch": 77500, "lat": 2736.0871985},
      {"epoch": 78500, "lat": 2736.0871998}, {"epoch": 79500, "lat": 2736.0872}, {"epoch": 80700, "lat": 2736.0871987},
      {"epoch": 82000, "lat": 2736.0872002}, {"epoch": 83000, "lat": 2736.0871998}, {"epoch": 84100, "lat": 2736.0871951},
      {"epoch": 85000, "lat": 2736.0872005}, {"epoch": 86500, "lat": 2736.087201}, {"epoch": 88000, "lat": 2736.087202},
      {"epoch": 89500, "lat": 2736.0872025}, {"epoch": 91000, "lat": 2736.0872015}, {"epoch": 92300, "lat": 2736.087198},
      {"epoch": 93500, "lat": 2736.0872012}, {"epoch": 95000, "lat": 2736.0872015}, {"epoch": 96500, "lat": 2736.0872045},
      {"epoch": 98000, "lat": 2736.087205}, {"epoch": 100000, "lat": 2736.0872045}, {"epoch": 101500, "lat": 2736.0872025},
      {"epoch": 103000, "lat": 2736.0872012}, {"epoch": 104000, "lat": 2736.0871987}, {"epoch": 105000, "lat": 2736.0872005},
      {"epoch": 106300, "lat": 2736.0871987}, {"epoch": 107500, "lat": 2736.0872015}, {"epoch": 109000, "lat": 2736.0872025},
      {"epoch": 110500, "lat": 2736.0872035}, {"epoch": 112000, "lat": 2736.0872036}, {"epoch": 113800, "lat": 2736.0872018},
      {"epoch": 115500, "lat": 2736.0872035}, {"epoch": 117000, "lat": 2736.087203}, {"epoch": 118600, "lat": 2736.0872022},
      {"epoch": 120000, "lat": 2736.0872016}, {"epoch": 121500, "lat": 2736.0872012}, {"epoch": 123000, "lat": 2736.0872015},
      {"epoch": 124500, "lat": 2736.087202}, {"epoch": 125900, "lat": 2736.0872002}, {"epoch": 127000, "lat": 2736.0872022},
      {"epoch": 128500, "lat": 2736.0872035}, {"epoch": 131000, "lat": 2736.087206}, {"epoch": 133500, "lat": 2736.0872045},
      {"epoch": 135000, "lat": 2736.0872042}, {"epoch": 137000, "lat": 2736.087205}, {"epoch": 139500, "lat": 2736.0872055},
      {"epoch": 141500, "lat": 2736.0872042}, {"epoch": 143000, "lat": 2736.0872045}, {"epoch": 144500, "lat": 2736.0872038},
      {"epoch": 146500, "lat": 2736.087203}, {"epoch": 148000, "lat": 2736.0872036}, {"epoch": 150000, "lat": 2736.0872028},
      {"epoch": 151500, "lat": 2736.0872035}, {"epoch": 153000, "lat": 2736.0872026}, {"epoch": 155200, "lat": 2736.0872021},
      {"epoch": 156500, "lat": 2736.0872025}, {"epoch": 158000, "lat": 2736.087203}, {"epoch": 159500, "lat": 2736.087202},
      {"epoch": 161400, "lat": 2736.0871989}, {"epoch": 162500, "lat": 2736.0872008}, {"epoch": 163500, "lat": 2736.0872015},
      {"epoch": 165200, "lat": 2736.0871981}, {"epoch": 166500, "lat": 2736.0872015}, {"epoch": 168000, "lat": 2736.0872022},
      {"epoch": 169500, "lat": 2736.0872025}, {"epoch": 171000, "lat": 2736.087203}, {"epoch": 172500, "lat": 2736.0872028},
      {"epoch": 174000, "lat": 2736.0872024}, {"epoch": 175200, "lat": 2736.0872011}, {"epoch": 176500, "lat": 2736.0872028},
      {"epoch": 178000, "lat": 2736.0872022}, {"epoch": 179500, "lat": 2736.087203}, {"epoch": 181000, "lat": 2736.087202},
      {"epoch": 182500, "lat": 2736.0872026}, {"epoch": 184000, "lat": 2736.0872028}, {"epoch": 185500, "lat": 2736.0872018},
      {"epoch": 187000, "lat": 2736.0872028}, {"epoch": 188500, "lat": 2736.0872022}, {"epoch": 189900, "lat": 2736.0871989},
      {"epoch": 191000, "lat": 2736.087203}, {"epoch": 192500, "lat": 2736.0872032}, {"epoch": 194300, "lat": 2736.0872019},
      {"epoch": 195500, "lat": 2736.0872038}, {"epoch": 197000, "lat": 2736.0872045}, {"epoch": 198500, "lat": 2736.087204},
      {"epoch": 200000, "lat": 2736.0872042}, {"epoch": 201200, "lat": 2736.0872045}
    ],
    "limits": [
      {"series": "2 Sigma 95% CI (upper)", "lat": 2736.0872138},
      {"series": "2 Sigma 95% CI (lower)", "lat": 2736.0872055}
    ],
    "leaders": [
      {"epoch": 600, "lat": 2736.0872152, "epoch2": 9400, "lat2": 2736.0872235},
      {"epoch": 9400, "lat": 2736.0872235, "epoch2": 10600, "lat2": 2736.0872235},
      {"epoch": 139700, "lat": 2736.0872054, "epoch2": 143100, "lat2": 2736.0871966},
      {"epoch": 143100, "lat": 2736.0871966, "epoch2": 144600, "lat2": 2736.0871966}
    ],
    "notes": [
      {"epoch": 11300, "lat": 2736.0872235, "label": "2 Sigma/95%"},
      {"epoch": 145200, "lat": 2736.0871965, "label": "2 Sigma/95%"}
    ]
  },
  "encoding": {
    "x": {
      "field": "epoch",
      "type": "quantitative",
      "scale": {"domain": [0, 202000], "nice": false},
      "axis": {
        "title": "Number of Single Latitude Epochs",
        "values": [0, 50000, 100000, 150000, 200000],
        "format": "d",
        "labelPadding": 15,
        "titlePadding": 14,
        "gridColor": {"condition": {"test": "datum.value == 100000", "value": "#8c8c8c"}, "value": "#333333"}
      }
    },
    "y": {
      "field": "lat",
      "type": "quantitative",
      "scale": {"domain": [2736.087185, 2736.087225], "nice": false, "zero": false},
      "axis": {
        "title": "Range in Metres",
        "titleFont": "DejaVu Sans",
        "titleFontSize": 13,
        "values": [2736.087185, 2736.08719, 2736.087195, 2736.0872, 2736.087205, 2736.08721, 2736.087215, 2736.08722, 2736.087225],
        "format": ".6f",
        "labelPadding": 12,
        "titlePadding": 11,
        "gridColor": "#555555"
      }
    }
  },
  "layer": [
    {
      "data": {"name": "core"},
      "mark": {"type": "area", "color": "#2e74b5", "opacity": 1},
      "encoding": {
        "y": {"field": "hi", "type": "quantitative"},
        "y2": {"field": "lo"}
      }
    },
    {
      "data": {"name": "trace"},
      "mark": {"type": "line", "strokeWidth": 1},
      "encoding": {
        "color": {
          "datum": "Single Epoch Latitude Observations",
          "type": "nominal",
          "scale": {
            "domain": ["Single Epoch Latitude Observations", "2 Sigma 95% CI (upper)", "2 Sigma 95% CI (lower)"],
            "range": ["#2e74b5", "#000000", "#000000"]
          },
          "legend": {
            "orient": "none",
            "legendX": 102,
            "legendY": 325,
            "direction": "horizontal",
            "title": null,
            "symbolType": "stroke",
            "symbolSize": 225,
            "symbolStrokeWidth": 1.6,
            "labelFont": "Roboto",
            "labelFontSize": 10.75,
            "labelFontWeight": "bold",
            "labelColor": "#111111",
            "labelLimit": 0,
            "labelOffset": 2,
            "columnPadding": 18,
            "labelExpr": "indexof(datum.label, '2 Sigma') == 0 ? '2 Sigma 95% CI' : datum.label"
          }
        }
      }
    },
    {
      "data": {"name": "spikes"},
      "mark": {"type": "rule", "strokeWidth": 1, "color": "#2e74b5", "opacity": 0.85},
      "encoding": {
        "y2": {"datum": 2736.08721}
      }
    },
    {
      "data": {"name": "limits"},
      "mark": {"type": "rule", "strokeWidth": 2.2},
      "encoding": {
        "x": null,
        "color": {
          "field": "series",
          "type": "nominal",
          "legend": {
            "orient": "none",
            "legendX": 102,
            "legendY": 325,
            "direction": "horizontal",
            "title": null,
            "symbolType": "stroke",
            "symbolSize": 225,
            "symbolStrokeWidth": 1.6,
            "labelFont": "Roboto",
            "labelFontSize": 10.75,
            "labelFontWeight": "bold",
            "labelColor": "#111111",
            "labelLimit": 0,
            "labelOffset": 2,
            "columnPadding": 18,
            "labelExpr": "indexof(datum.label, '2 Sigma') == 0 ? '2 Sigma 95% CI' : datum.label"
          }
        }
      }
    },
    {
      "data": {"name": "leaders"},
      "mark": {"type": "rule", "color": "#6a6a6a", "strokeWidth": 0.9},
      "encoding": {
        "x2": {"field": "epoch2"},
        "y2": {"field": "lat2"}
      }
    },
    {
      "data": {"name": "notes"},
      "mark": {
        "type": "text",
        "align": "left",
        "baseline": "middle",
        "font": "Roboto",
        "fontSize": 10,
        "color": "#1a1a1a"
      },
      "encoding": {
        "text": {"field": "label", "type": "nominal"}
      }
    }
  ]
}
